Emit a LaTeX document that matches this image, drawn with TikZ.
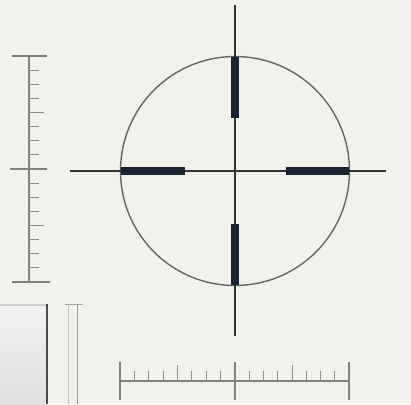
\documentclass[tikz,border=0pt]{standalone}
\definecolor{bgc}{RGB}{243,241,236}
\definecolor{postc}{RGB}{24,34,48}
\begin{document}
\begin{tikzpicture}[x=1pt,y=-1pt,
  ruler/.style={draw=black!50,line width=1.3pt},
  tick/.style={draw=black!45,line width=1pt},
  hair/.style={draw=black!80,line width=1.4pt},
  ring/.style={draw=black!60,line width=1.4pt},
  post/.style={draw=postc,line width=7.5pt,rounded corners=1pt}]
\fill[bgc] (0,0) rectangle (411,404);
\useasboundingbox (0,0) rectangle (411,404);
% bottom-left panel
\shade[top color=black!5,bottom color=black!12] (0,305) rectangle (46,404);
\draw[black!20,line width=1.2pt] (0,305) -- (46,305);
\draw[black!70,line width=2pt] (47,304) -- (47,404);
\draw[black!25,line width=1pt] (68,304) -- (68,404);
\draw[black!40,line width=1pt] (77,304) -- (77,404);
\draw[black!35,line width=1pt] (65,304) -- (83,304);
% left ruler
\draw[ruler] (29,56) -- (29,282);
\draw[ruler] (12,56) -- (47,56);
\draw[ruler] (10,169) -- (47,169);
\draw[ruler] (12,282) -- (50,282);
\foreach \k in {1,2,3,5,6,7}{
  \draw[tick] (29,56+\k*14.125) -- (39,56+\k*14.125);
  \draw[tick] (29,169+\k*14.125) -- (39,169+\k*14.125);}
\draw[tick] (29,112.5) -- (44,112.5);
\draw[tick] (29,225.5) -- (44,225.5);
% bottom ruler
\draw[ruler] (120,381) -- (349,381);
\draw[ruler] (120,362) -- (120,400);
\draw[ruler] (235,362) -- (235,400);
\draw[ruler] (349,362) -- (349,400);
\foreach \k in {1,2,3,5,6,7}{
  \draw[tick] (120+\k*14.375,381) -- (120+\k*14.375,371);
  \draw[tick] (235+\k*14.25,381) -- (235+\k*14.25,371);}
\draw[tick] (177.5,381) -- (177.5,365);
\draw[tick] (292,381) -- (292,365);
% crosshair
\coordinate (c) at (235,171);
\draw[ring] (c) circle[radius=114.5];
\draw[hair] (235,5) -- (235,336);
\draw[hair] (70,171) -- (386,171);
\draw[post] (235,57) -- (235,118);
\draw[post] (235,224) -- (235,285);
\draw[post] (121,171) -- (185,171);
\draw[post] (286,171) -- (349,171);
\end{tikzpicture}
\end{document}
